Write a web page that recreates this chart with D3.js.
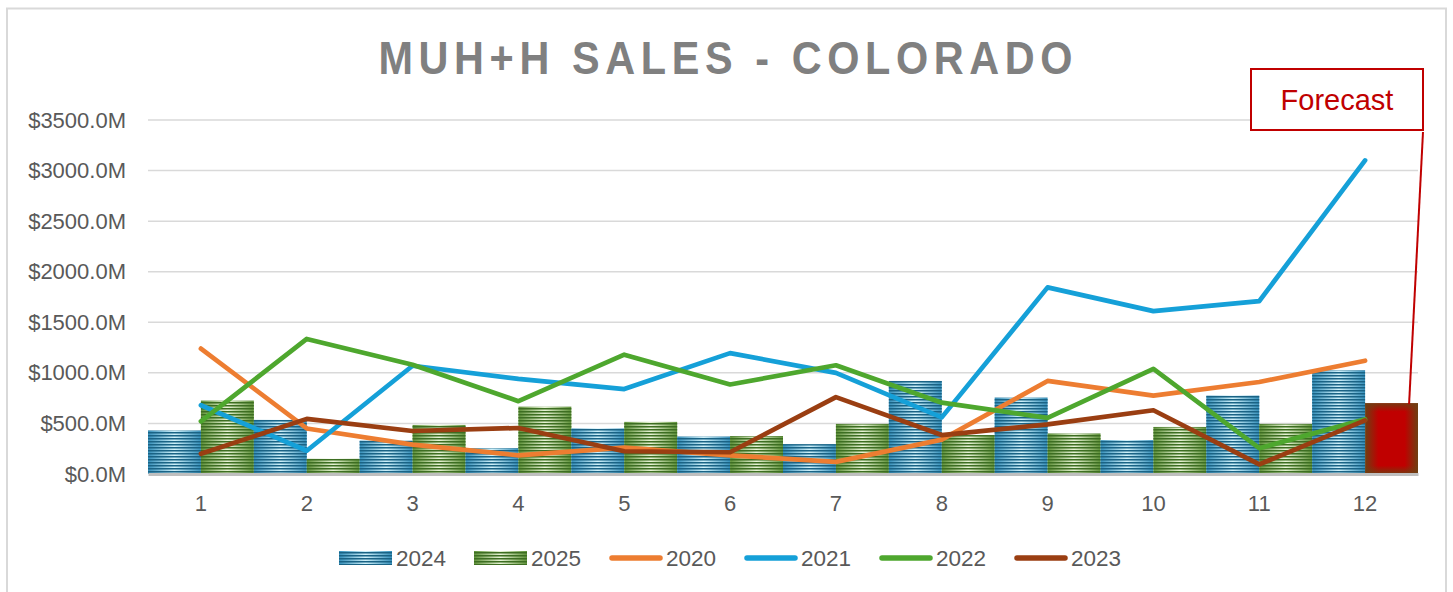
<!DOCTYPE html>
<html>
<head>
<meta charset="utf-8">
<script src="https://cdn.jsdelivr.net/npm/d3@7"></script>
<style>
  body { margin: 0; background: #fff; }
  svg text { font-family: "Liberation Sans", Arial, sans-serif; }
</style>
</head>
<body>
<div id="vis"></div>
<script>
// Monthly sales, $M
const months = [1, 2, 3, 4, 5, 6, 7, 8, 9, 10, 11, 12];
const sales2024 = [430, 535, 330, 255, 450, 370, 295, 920, 755, 335, 775, 1025];
const sales2025 = [725, 150, 485, 665, 515, 375, 495, 385, 400, 465, 495, 700]; // month 12 = forecast
const forecastMonth = 12;
const sales2020 = [1240, 450, 290, 185, 260, 185, 120, 340, 920, 775, 910, 1120];
const sales2021 = [680, 230, 1070, 940, 840, 1195, 1000, 560, 1845, 1610, 1710, 3100];
const sales2022 = [520, 1335, 1080, 720, 1180, 885, 1075, 705, 555, 1040, 255, 540];
const sales2023 = [200, 545, 425, 455, 225, 215, 760, 385, 490, 630, 95, 530];
const yTicks = [0, 500, 1000, 1500, 2000, 2500, 3000, 3500];

const lineSeries = [
  { name: "2020", values: sales2020, color: "#ED7D31" },
  { name: "2021", values: sales2021, color: "#15A0D8" },
  { name: "2022", values: sales2022, color: "#4EA72E" },
  { name: "2023", values: sales2023, color: "#9A3E12" }
];

const W = 1453, H = 592;
const svg = d3.select("#vis").append("svg")
  .attr("width", W)
  .attr("height", H);

const defs = svg.append("defs");

// bar fills: horizontal shading + dark stripes
function barDefs(id, edge, mid, stripe) {
  const g = defs.append("linearGradient").attr("id", id + "Grad")
    .attr("x1", 0).attr("x2", 1).attr("y1", 0).attr("y2", 0);
  g.append("stop").attr("offset", "0%").attr("stop-color", edge);
  g.append("stop").attr("offset", "50%").attr("stop-color", mid);
  g.append("stop").attr("offset", "100%").attr("stop-color", edge);

  const p = defs.append("pattern").attr("id", id + "Stripe")
    .attr("patternUnits", "userSpaceOnUse")
    .attr("width", 10).attr("height", 3);
  p.append("rect").attr("width", 10).attr("height", 1.5).attr("fill", stripe);
}
barDefs("blue", "#3690bb", "#cff1fa", "#1a6385");
barDefs("green", "#5f9239", "#e8f4d6", "#3d6e22");

const fh = defs.append("linearGradient").attr("id", "fcH")
  .attr("x1", 0).attr("x2", 1).attr("y1", 0).attr("y2", 0);
fh.append("stop").attr("offset", "0%").attr("stop-color", "#6e3f12");
fh.append("stop").attr("offset", "25%").attr("stop-color", "#c00000");
fh.append("stop").attr("offset", "75%").attr("stop-color", "#c00000");
fh.append("stop").attr("offset", "100%").attr("stop-color", "#6e3f12");
const fv = defs.append("linearGradient").attr("id", "fcV")
  .attr("x1", 0).attr("x2", 0).attr("y1", 0).attr("y2", 1);
fv.append("stop").attr("offset", "0%").attr("stop-color", "#6e3f12").attr("stop-opacity", 0.9);
fv.append("stop").attr("offset", "12%").attr("stop-color", "#6e3f12").attr("stop-opacity", 0);
fv.append("stop").attr("offset", "88%").attr("stop-color", "#6e3f12").attr("stop-opacity", 0);
fv.append("stop").attr("offset", "100%").attr("stop-color", "#6e3f12").attr("stop-opacity", 0.9);

// chart frame
svg.append("rect")
  .attr("x", 7).attr("y", 8.5)
  .attr("width", 1439).attr("height", 620)
  .attr("fill", "#fff")
  .attr("stroke", "#d9d9d9")
  .attr("stroke-width", 2);

// title: narrowed glyphs, wide letter spacing
const squeeze = 0.9;
svg.append("g")
  .attr("transform", `scale(${squeeze},1)`)
  .append("text")
  .attr("x", 725.5 / squeeze)
  .attr("y", 74)
  .attr("text-anchor", "middle")
  .attr("font-size", "46px")
  .attr("font-weight", "bold")
  .attr("fill", "#808080")
  .attr("textLength", 694 / squeeze)
  .attr("lengthAdjust", "spacing")
  .text("MUH+H SALES - COLORADO");

const xScale = d3.scaleBand()
  .domain(months)
  .range([148, 1418])
  .padding(0);

const xSub = d3.scaleBand()
  .domain(["2024", "2025"])
  .range([0, xScale.bandwidth()])
  .padding(0);

const yScale = d3.scaleLinear()
  .domain([0, 3500])
  .range([474, 120]);

// gridlines
svg.append("g")
  .selectAll("line")
  .data(yTicks.filter(d => d > 0))
  .join("line")
  .attr("x1", 148).attr("x2", 1418)
  .attr("y1", d => yScale(d)).attr("y2", d => yScale(d))
  .attr("stroke", "#d9d9d9")
  .attr("stroke-width", 1.5);

// y labels
const yAxis = svg.append("g")
  .attr("transform", "translate(148,0)")
  .call(d3.axisLeft(yScale).tickValues(yTicks).tickSize(0).tickPadding(22)
    .tickFormat(d => "$" + d3.format(".1f")(d) + "M"));
yAxis.select(".domain").remove();
yAxis.selectAll("text")
  .attr("font-size", "22px")
  .attr("fill", "#595959")
  .style("font-family", "'Liberation Sans', Arial, sans-serif");

// bars
const barData = [];
months.forEach((m, i) => {
  barData.push({ month: m, series: "2024", value: sales2024[i] });
  barData.push({ month: m, series: "2025", value: sales2025[i] });
});

const bars = svg.append("g");
const normalBars = barData.filter(d => !(d.series === "2025" && d.month === forecastMonth));
["Grad", "Stripe"].forEach(kind => {
  bars.append("g")
    .selectAll("rect")
    .data(normalBars)
    .join("rect")
    .attr("x", d => xScale(d.month) + xSub(d.series))
    .attr("y", d => yScale(d.value))
    .attr("width", xSub.bandwidth())
    .attr("height", d => yScale(0) - yScale(d.value))
    .attr("fill", d => `url(#${d.series === "2024" ? "blue" : "green"}${kind})`);
});

// forecast bar
const fc = barData.filter(d => d.series === "2025" && d.month === forecastMonth);
["fcH", "fcV"].forEach(id => {
  bars.append("g")
    .selectAll("rect")
    .data(fc)
    .join("rect")
    .attr("x", d => xScale(d.month) + xSub(d.series))
    .attr("y", d => yScale(d.value))
    .attr("width", xSub.bandwidth())
    .attr("height", d => yScale(0) - yScale(d.value))
    .attr("fill", `url(#${id})`);
});

// x axis
const xAxis = svg.append("g")
  .attr("transform", `translate(0,${yScale(0)})`)
  .call(d3.axisBottom(xScale).tickSize(0).tickPadding(21));
xAxis.select(".domain")
  .attr("stroke", "#bfbfbf")
  .attr("stroke-width", 3);
xAxis.selectAll("text")
  .attr("font-size", "22px")
  .attr("fill", "#595959")
  .style("font-family", "'Liberation Sans', Arial, sans-serif");

// lines
const line = d3.line()
  .x((d, i) => xScale(months[i]) + xScale.bandwidth() / 2)
  .y(d => yScale(d));

svg.append("g")
  .selectAll("path")
  .data(lineSeries)
  .join("path")
  .attr("d", d => line(d.values))
  .attr("fill", "none")
  .attr("stroke", d => d.color)
  .attr("stroke-width", 4.7)
  .attr("stroke-linecap", "round")
  .attr("stroke-linejoin", "round");

// forecast callout
const fcX = xScale(forecastMonth) + xSub("2025");
svg.append("line")
  .attr("x1", 1423).attr("y1", 132)
  .attr("x2", fcX + 44).attr("y2", yScale(sales2025[11]) + 1)
  .attr("stroke", "#c00000")
  .attr("stroke-width", 2);
svg.append("rect")
  .attr("x", 1251).attr("y", 69)
  .attr("width", 172).attr("height", 61)
  .attr("fill", "#fff")
  .attr("stroke", "#c00000")
  .attr("stroke-width", 2);
svg.append("text")
  .attr("x", 1337).attr("y", 110)
  .attr("text-anchor", "middle")
  .attr("font-size", "29px")
  .attr("fill", "#c00000")
  .text("Forecast");

// legend
const legendItems = [
  { name: "2024", type: "bar", id: "blue" },
  { name: "2025", type: "bar", id: "green" },
  ...lineSeries.map(s => ({ name: s.name, type: "line", color: s.color }))
];
const legend = svg.append("g")
  .selectAll("g")
  .data(legendItems)
  .join("g")
  .attr("transform", (d, i) => `translate(${339 + i * 135},558)`);

legend.filter(d => d.type === "bar").each(function (d) {
  const g = d3.select(this);
  ["Grad", "Stripe"].forEach(kind => {
    g.append("rect")
      .attr("x", 0).attr("y", -7)
      .attr("width", 53).attr("height", 14)
      .attr("fill", `url(#${d.id}${kind})`);
  });
});
legend.filter(d => d.type === "line")
  .append("line")
  .attr("x1", 3).attr("x2", 51)
  .attr("y1", 0).attr("y2", 0)
  .attr("stroke", d => d.color)
  .attr("stroke-width", 5.5)
  .attr("stroke-linecap", "round");

legend.append("text")
  .attr("x", 57)
  .attr("y", 8)
  .attr("font-size", "22.5px")
  .attr("fill", "#595959")
  .text(d => d.name);
</script>
</body>
</html>
